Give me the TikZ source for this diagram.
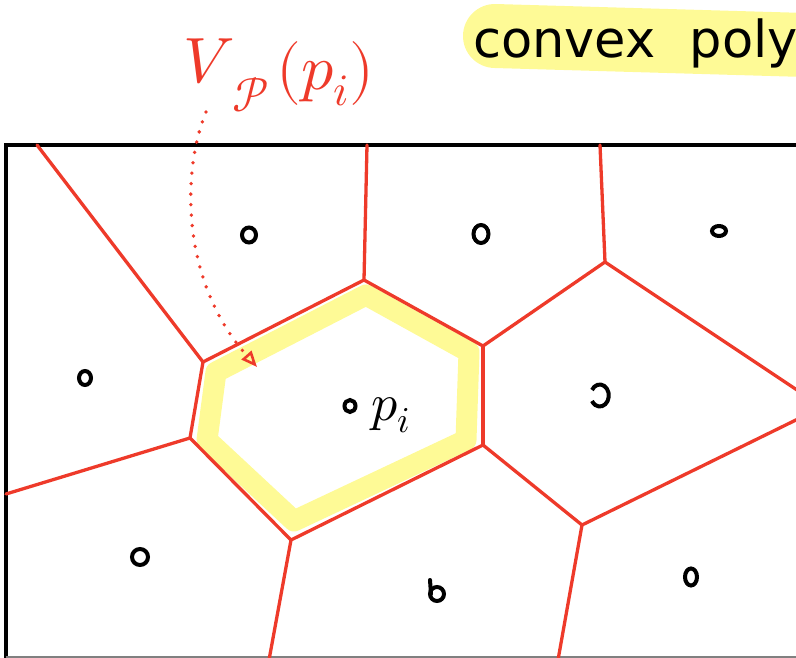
\documentclass[tikz,border=0pt]{standalone}
\usepackage{fontspec}
\usepackage{unicode-math}
\setmathfont{Latin Modern Math}
\usetikzlibrary{arrows.meta}
\newfontfamily\handfont{DejaVu Sans}
\definecolor{vred}{RGB}{238,58,42}
\definecolor{hl}{RGB}{254,250,150}
\begin{document}
\begin{tikzpicture}[x=1pt,y=-1pt,
  edge/.style={vred,line width=3.3pt,line cap=round},
  site/.style={black,line width=4pt},
  frame/.style={black,line width=3.5pt},
  band/.style={hl,line width=21pt,line join=round},
  lbl/.style={inner sep=0pt,anchor=base west}]
\useasboundingbox (0,0) rectangle (796,658);
% highlights
\draw[hl,line width=64pt,line cap=round] (495,36) -- (840,46);
\draw[band] (216,372) -- (366,295) -- (469,352) -- (466,440) -- (294,521) -- (207,440) -- cycle;
% frame
\draw[frame] (6,660) -- (6,145) -- (800,145);
\draw[gray,line width=2pt] (6,657) -- (800,657);
% Voronoi vertices
\coordinate (A) at (203,362);
\coordinate (B) at (364,280);
\coordinate (C) at (483,346);
\coordinate (D) at (605,262);
\coordinate (E) at (483,445);
\coordinate (F) at (291,540);
\coordinate (G) at (190,438);
\coordinate (H) at (582,525);
\coordinate (tA) at (37,145);
\coordinate (tB) at (367,145);
\coordinate (tD) at (600,145);
\coordinate (rD) at (800,392);
\coordinate (rH) at (800,418);
\coordinate (lG) at (6,494);
\coordinate (bF) at (269,660);
\coordinate (bH) at (558,660);
% Voronoi edges
\draw[edge] (tA) -- (A);
\draw[edge] (A) -- (B);
\draw[edge] (B) -- (tB);
\draw[edge] (B) -- (C);
\draw[edge] (C) -- (D);
\draw[edge] (D) -- (tD);
\draw[edge] (D) -- (rD);
\draw[edge] (C) -- (E);
\draw[edge] (A) -- (G);
\draw[edge] (G) -- (lG);
\draw[edge] (G) -- (F);
\draw[edge] (F) -- (E);
\draw[edge] (F) -- (bF);
\draw[edge] (E) -- (H);
\draw[edge] (H) -- (rH);
\draw[edge] (H) -- (bH);
% sites
\draw[site] (249,235) ellipse [x radius=7, y radius=7.5];
\draw[site] (481,234) ellipse [x radius=7.5, y radius=9];
\draw[site] (719,231) ellipse [x radius=7, y radius=5];
\draw[site] (85,378) ellipse [x radius=6, y radius=7];
\draw[site] (592,390) arc [start angle=-150, end angle=150, x radius=9, y radius=11];
\draw[site] (350,406) ellipse [x radius=5.5, y radius=6];
\draw[site] (140,557) ellipse [x radius=8, y radius=8];
\draw[site] (437,594) ellipse [x radius=7, y radius=7];
\draw[site,line cap=round] (431,594) -- (430,580);
\draw[site] (691,577) ellipse [x radius=6, y radius=8.5];
% labels
\node[lbl] (pi) at (371,420) {\fontsize{52}{52}\selectfont $p_i$};
\node[lbl,text=vred] (V) at (183,83) {\fontsize{64}{64}\selectfont $V$};
\node[lbl,text=vred] (P) at (232,112) {\fontsize{48}{48}\selectfont $\mathcal{P}$};
\node[lbl,text=vred] (par) at (276,90) {\fontsize{64}{64}\selectfont $(p_i)$};
\node[lbl] (cp) at (473,58) {\handfont\fontsize{51}{51}\selectfont convex\hspace{34pt}poly};
% dotted arrow
\coordinate (arrS) at (206,112);
\coordinate (arrE) at (257,367);
\draw[vred,line width=3.8pt,line cap=round,dash pattern=on 0pt off 10.5pt,
  -{Triangle[open,length=16pt,width=13pt,line width=2.6pt]}]
  (arrS) .. controls (182,170) and (180,280) .. (arrE);
\end{tikzpicture}
\end{document}
